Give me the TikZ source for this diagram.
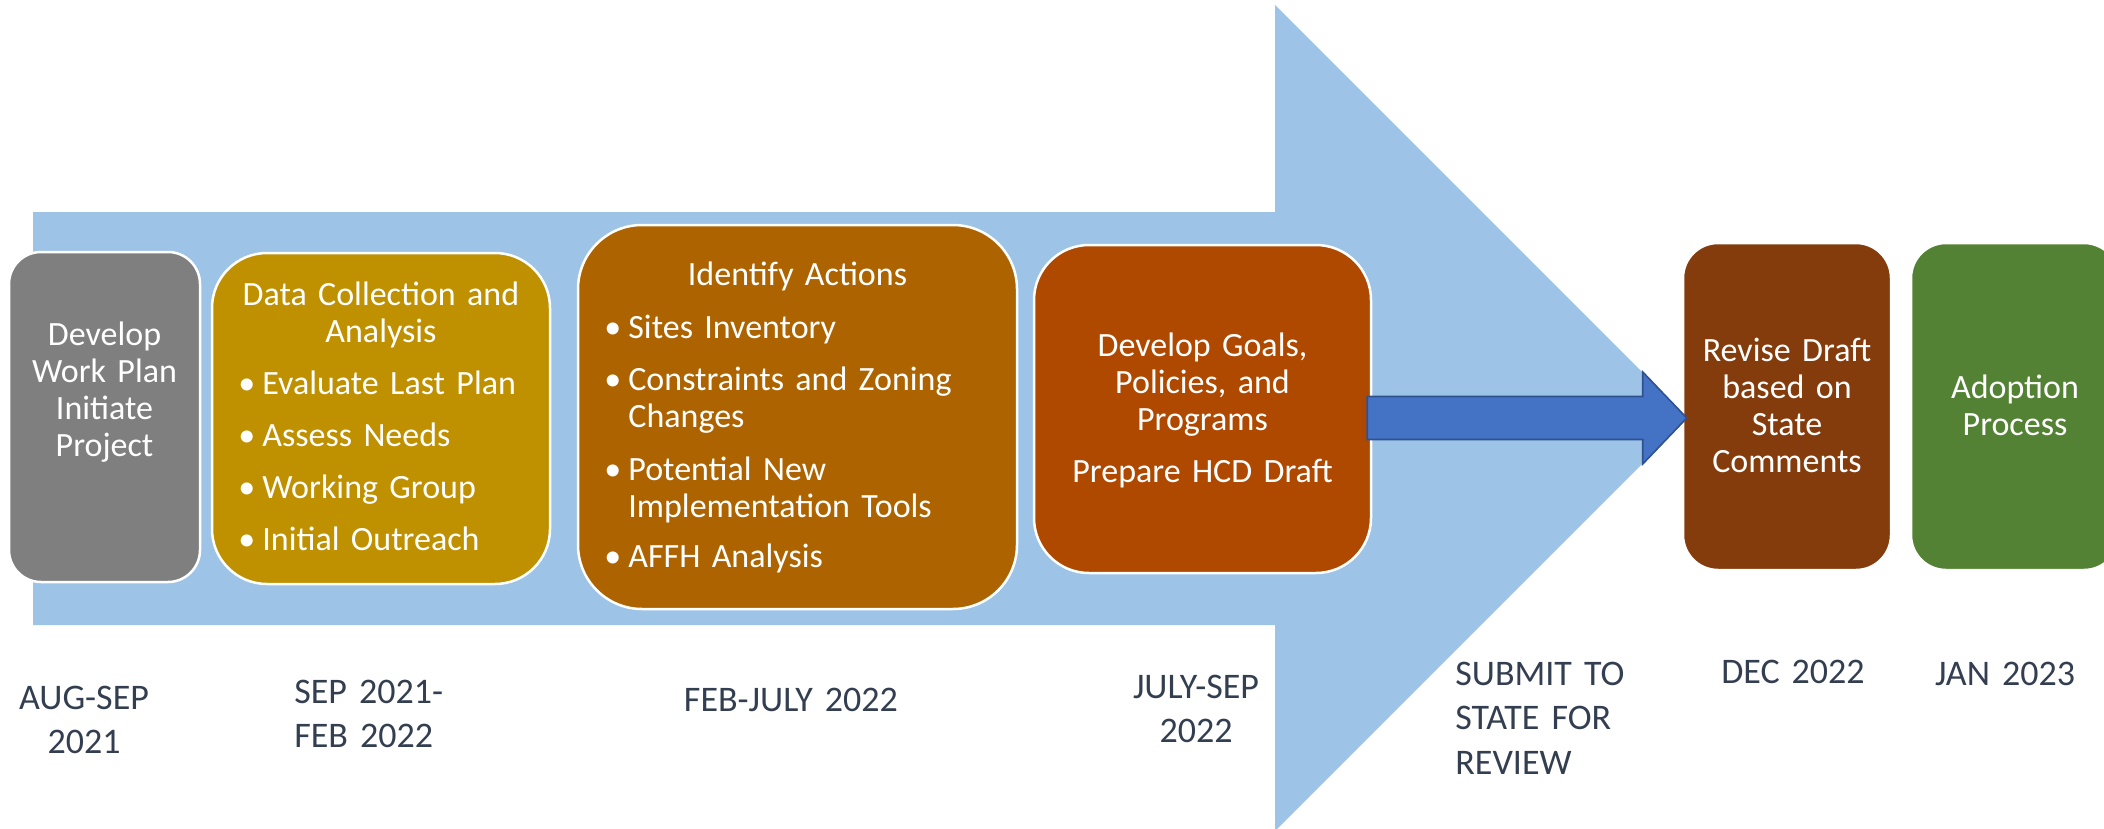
\documentclass[tikz,border=0pt]{standalone}
\usepackage{fontspec}
\setmainfont{Carlito}
\usetikzlibrary{calc}
\definecolor{lblue}{HTML}{9DC3E6}
\definecolor{cgray}{HTML}{7F7F7F}
\definecolor{cgold}{HTML}{BF9000}
\definecolor{cochre}{HTML}{AD6400}
\definecolor{crust}{HTML}{B04900}
\definecolor{cbrown}{HTML}{843C0C}
\definecolor{cgreen}{HTML}{548235}
\definecolor{carrow}{HTML}{4472C4}
\definecolor{carrowb}{HTML}{2F528F}
\definecolor{dategray}{HTML}{333F50}
\begin{document}
\begin{tikzpicture}[x=0.5pt,y=-0.5pt,
  box/.style={draw=white, line width=1.25pt, rounded corners=#1, inner sep=0pt, shape=rectangle},
  boxtxt/.style={text=white, font=\fontsize{17}{18.6}\selectfont, inner sep=0pt, align=center, text width=160pt, anchor=base},
  bul/.style={text=white, font=\fontsize{17}{18.6}\selectfont, inner sep=0pt, align=left, text width=200pt, anchor=base west},
  datetxt/.style={text=dategray, font=\fontsize{18}{22.25}\selectfont, inner sep=0pt, align=center, text width=150pt, anchor=base},
  datetxtl/.style={text=dategray, font=\fontsize{18}{22.25}\selectfont, inner sep=0pt, align=left, text width=150pt, anchor=base west},
  blockarrow/.style={fill=carrow, draw=carrowb, line width=0.8pt, line join=miter}]
\useasboundingbox (0,0) rectangle (2104,829);
\clip (0,0) rectangle (2104,829);
% big background arrow
\fill[lblue] (33,212) -- (1275,212) -- (1275,5) -- (1688,418) -- (1275,831) -- (1275,625) -- (33,625) -- cycle;
% boxes
\node[box=16pt, fill=cgray, minimum width=95.5pt, minimum height=165pt] (b1) at (104.5,417) {};
\node[box=27.5pt, fill=cgold, minimum width=169pt, minimum height=165.5pt] (b2) at (381,418.5) {};
\node[box=32pt, fill=cochre, minimum width=219.5pt, minimum height=192pt] (b3) at (797.5,417) {};
\node[box=27.5pt, fill=crust, minimum width=168.5pt, minimum height=164pt] (b4) at (1202.5,409) {};
\node[box=17.5pt, fill=cbrown, minimum width=104pt, minimum height=163.5pt] (b5) at (1787,406.5) {};
\node[box=17.5pt, fill=cgreen, minimum width=104pt, minimum height=163.5pt] (b6) at (2015,406.5) {};
% blue block arrow from b4 to b5
\coordinate (s) at (b4.east |- 0,418);
\coordinate (t0) at ([xshift=2.5pt]b5.west);
\coordinate (tip) at (t0 |- 0,418);
\draw[blockarrow] ($(s)+(-5,-21.5)$) -- ($(tip)+(-44,-21.5)$) -- ($(tip)+(-44,-46)$) -- (tip)
  -- ($(tip)+(-44,46)$) -- ($(tip)+(-44,21.5)$) -- ($(s)+(-5,21.5)$) -- cycle;
% box texts
\node[boxtxt] (t1) at (104.5,345) {Develop\\Work Plan\\Initiate\\Project};
\node[boxtxt] (t2) at (381,305) {Data Collection and\\Analysis};
\node[bul] (t2a) at (238,394) {\makebox[12pt][l]{•}Evaluate Last Plan};
\node[bul] (t2b) at (238,446) {\makebox[12pt][l]{•}Assess Needs};
\node[bul] (t2c) at (238,498) {\makebox[12pt][l]{•}Working Group};
\node[bul] (t2d) at (238,550) {\makebox[12pt][l]{•}Initial Outreach};
\node[boxtxt] (t3) at (797.5,285) {Identify Actions};
\node[bul] (t3a) at (604,338) {\makebox[12pt][l]{•}Sites Inventory};
\node[bul] (t3b) at (604,390) {\makebox[12pt][l]{•}Constraints and Zoning\\\hspace*{12pt}Changes};
\node[bul] (t3c) at (604,480) {\makebox[12pt][l]{•}Potential New\\\hspace*{12pt}Implementation Tools};
\node[bul] (t3d) at (604,567) {\makebox[12pt][l]{•}AFFH Analysis};
\node[boxtxt] (t4) at (1202.5,356) {Develop Goals,\\Policies, and\\Programs};
\node[boxtxt] (t4b) at (1202.5,482) {Prepare HCD Draft};
\node[boxtxt] (t5) at (1787,361) {Revise Draft\\based on\\State\\Comments};
\node[boxtxt] (t6) at (2015,398) {Adoption\\Process};
% dates
\node[datetxt] (d1) at (84,709) {AUG-SEP\\2021};
\node[datetxtl] (d2) at (294,703) {SEP 2021-\\FEB 2022};
\node[datetxt] (d3) at (791,711) {FEB-JULY 2022};
\node[datetxt] (d4) at (1196,698) {JULY-SEP\\2022};
\node[datetxtl] (d5) at (1455,685) {SUBMIT TO\\STATE FOR\\REVIEW};
\node[datetxt] (d6) at (1793,683) {DEC 2022};
\node[datetxt] (d7) at (2005,685) {JAN 2023};
\end{tikzpicture}
\end{document}
